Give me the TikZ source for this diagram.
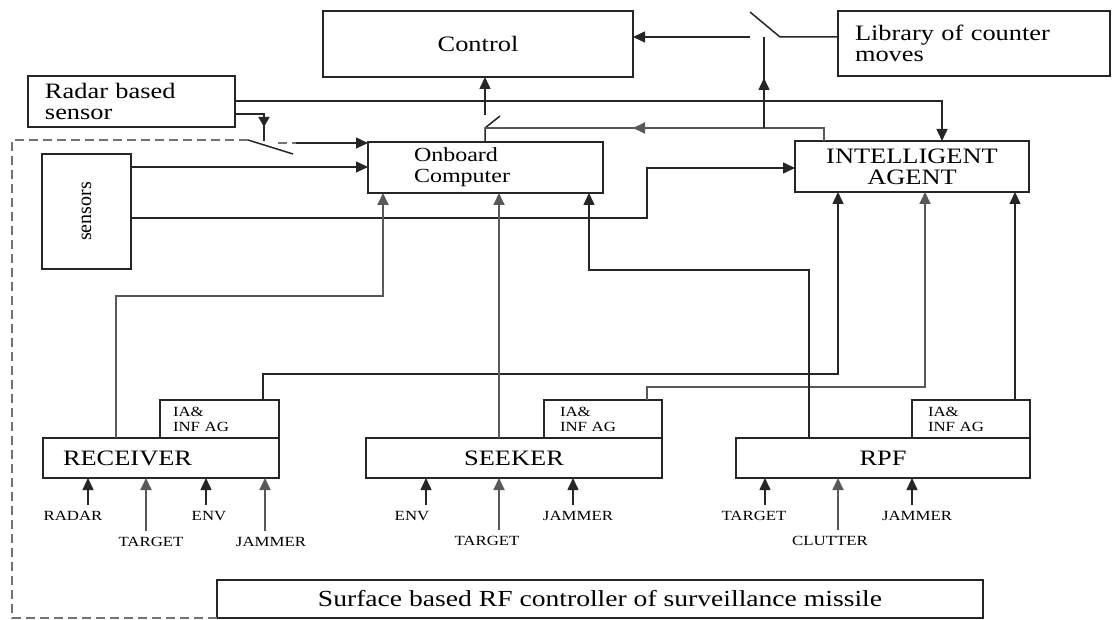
\documentclass[tikz,border=0pt]{standalone}
\usepackage{fontspec}
\setmainfont{Liberation Serif}[FakeStretch=1.2]
\newfontfamily\plainserif{Liberation Serif}
\usetikzlibrary{arrows.meta}
\begin{document}
\begin{tikzpicture}[x=1pt,y=-1pt,
  box/.style={draw=black!85, line width=1.5pt, inner sep=0pt, outer sep=0pt, anchor=north west},
  ln/.style={draw=black!85, line width=1.5pt},
  gl/.style={draw=black!65, line width=1.8pt},
  arr/.style={-{Triangle[length=12pt,width=11pt]}},
  sarr/.style={-{Triangle[length=10pt,width=11pt]}},
  dashbox/.style={draw=black!55, line width=2pt, dash pattern=on 9pt off 5pt},
  big/.style={font=\fontsize{22}{21}\selectfont},
  mid/.style={font=\fontsize{20}{21}\selectfont},
  small/.style={font=\fontsize{14}{15}\selectfont},
  lab/.style={font=\fontsize{14}{15}\selectfont, inner sep=1pt},
]
\useasboundingbox (0,0) rectangle (1112,620);

% boxes
\node[box, minimum width=310pt, minimum height=66pt, big] (control) at (323,11) {Control};
\node[box, minimum width=272pt, minimum height=65pt, text width=238pt, inner xsep=17pt, align=left, big] (library) at (838,11) {Library of counter\\moves};
\node[box, minimum width=207pt, minimum height=51pt, text width=173pt, inner xsep=17pt, align=left, big] (radar) at (28,76) {Radar based\\sensor};
\node[box, minimum width=235pt, minimum height=51pt, text width=143pt, inner xsep=46pt, align=left, mid] (onboard) at (368,142) {Onboard\\Computer};
\node[box, minimum width=234pt, minimum height=51pt, align=center, big] (ia) at (795,141) {INTELLIGENT\\AGENT};
\node[box, minimum width=89pt, minimum height=115pt] (sensors) at (42,154) {\fontsize{20}{20}\plainserif\rotatebox{90}{sensors}};

\node[box, minimum width=236pt, minimum height=40pt, text width=196pt, inner xsep=20pt, align=left, big] (receiver) at (43,438) {RECEIVER};
\node[box, minimum width=119pt, minimum height=38pt, text width=93pt, inner xsep=13pt, align=left, small] (ria) at (160,400) {IA\&\\INF AG};
\node[box, minimum width=296pt, minimum height=40pt, big] (seeker) at (366,438) {SEEKER};
\node[box, minimum width=118pt, minimum height=38pt, text width=86pt, inner xsep=16pt, align=left, small] (sia) at (544,400) {IA\&\\INF AG};
\node[box, minimum width=294pt, minimum height=40pt, big] (rpf) at (736,438) {RPF};
\node[box, minimum width=118pt, minimum height=38pt, text width=86pt, inner xsep=16pt, align=left, small] (pia) at (912,400) {IA\&\\INF AG};

\node[box, minimum width=766pt, minimum height=38pt, font=\fontsize{23}{23}\selectfont] (bottom) at (217,580) {Surface based RF controller of surveillance missile};

% dashed boundary
\draw[dashbox] (248,140) -- (12,140) -- (12,618) -- (bottom.south west);

% radar connections
\draw[ln,arr] (radar.east |- 0,101) -| (942,0 |- ia.north);
\draw[ln,sarr] (radar.east |- 0,114) -- (264,114) -- (264,127);
\draw[ln] (264,126) -- (264,141);
\draw[ln] (248,140) -- (293,154);
\draw[dashbox] (278,143) -- (296,143);
\coordinate (rin) at (296,143);
\draw[ln,arr] (rin) -- (onboard.west |- 0,143);

% sensors
\draw[ln,arr] (sensors.east |- 0,167) -- (onboard.west |- 0,167);
\draw[ln,arr] (sensors.east |- 0,218) -- (647,218) |- (ia.west |- 0,168);

% onboard -> control via switch
\draw[ln] (onboard.north -| 485,0) -- (485,128) -- (500,116);
\draw[ln,arr] (485,115) -- (control.south -| 485,0);

% IA -> feedback line
\draw[gl] (ia.north -| 824,0) |- (485,128);
\draw[gl,arr] (700,128) -- (633,128);
\draw[ln,arr] (764,128) -- (764,78);
\draw[ln] (764,80) -- (764,37);
\draw[ln] (750,12) -- (780,37) -- (library.west |- 0,37);
\draw[ln,arr] (750,37) -- (control.east |- 0,37);

% lower connections
\draw[gl,arr] (receiver.north -| 116,0) |- (383,296) -- (onboard.south -| 383,0);
\draw[ln,arr] (ria.north -| 263,0) |- (838,374) -- (ia.south -| 838,0);
\draw[gl,arr] (seeker.north -| 499,0) -- (onboard.south -| 499,0);
\draw[gl,arr] (sia.north -| 647,0) |- (925,387) -- (ia.south -| 925,0);
\draw[ln,arr] (rpf.north -| 809,0) |- (589,270) -- (onboard.south -| 589,0);
\draw[ln,arr] (pia.north -| 1015,0) -- (ia.south -| 1015,0);

% input labels
\node[lab] (r1) at (73,516) {RADAR};
\node[lab] (r2) at (151,542) {TARGET};
\node[lab] (r3) at (209,516) {ENV};
\node[lab] (r4) at (271,542) {JAMMER};
\node[lab] (s1) at (412,516) {ENV};
\node[lab] (s2) at (487,541) {TARGET};
\node[lab] (s3) at (578,516) {JAMMER};
\node[lab] (p1) at (754,516) {TARGET};
\node[lab] (p2) at (830,541) {CLUTTER};
\node[lab] (p3) at (917,516) {JAMMER};

\draw[ln,arr] (r1.north -| 88,0) ++(0,-5) -- (receiver.south -| 88,0);
\draw[gl,arr] (r2.north -| 146,0) ++(0,-5) -- (receiver.south -| 146,0);
\draw[ln,arr] (r3.north -| 206,0) ++(0,-5) -- (receiver.south -| 206,0);
\draw[gl,arr] (r4.north -| 265,0) ++(0,-5) -- (receiver.south -| 265,0);
\draw[ln,arr] (s1.north -| 426,0) ++(0,-5) -- (seeker.south -| 426,0);
\draw[gl,arr] (s2.north -| 499,0) ++(0,-5) -- (seeker.south -| 499,0);
\draw[ln,arr] (s3.north -| 573,0) ++(0,-5) -- (seeker.south -| 573,0);
\draw[ln,arr] (p1.north -| 765,0) ++(0,-5) -- (rpf.south -| 765,0);
\draw[gl,arr] (p2.north -| 838,0) ++(0,-5) -- (rpf.south -| 838,0);
\draw[ln,arr] (p3.north -| 912,0) ++(0,-5) -- (rpf.south -| 912,0);
\end{tikzpicture}
\end{document}
